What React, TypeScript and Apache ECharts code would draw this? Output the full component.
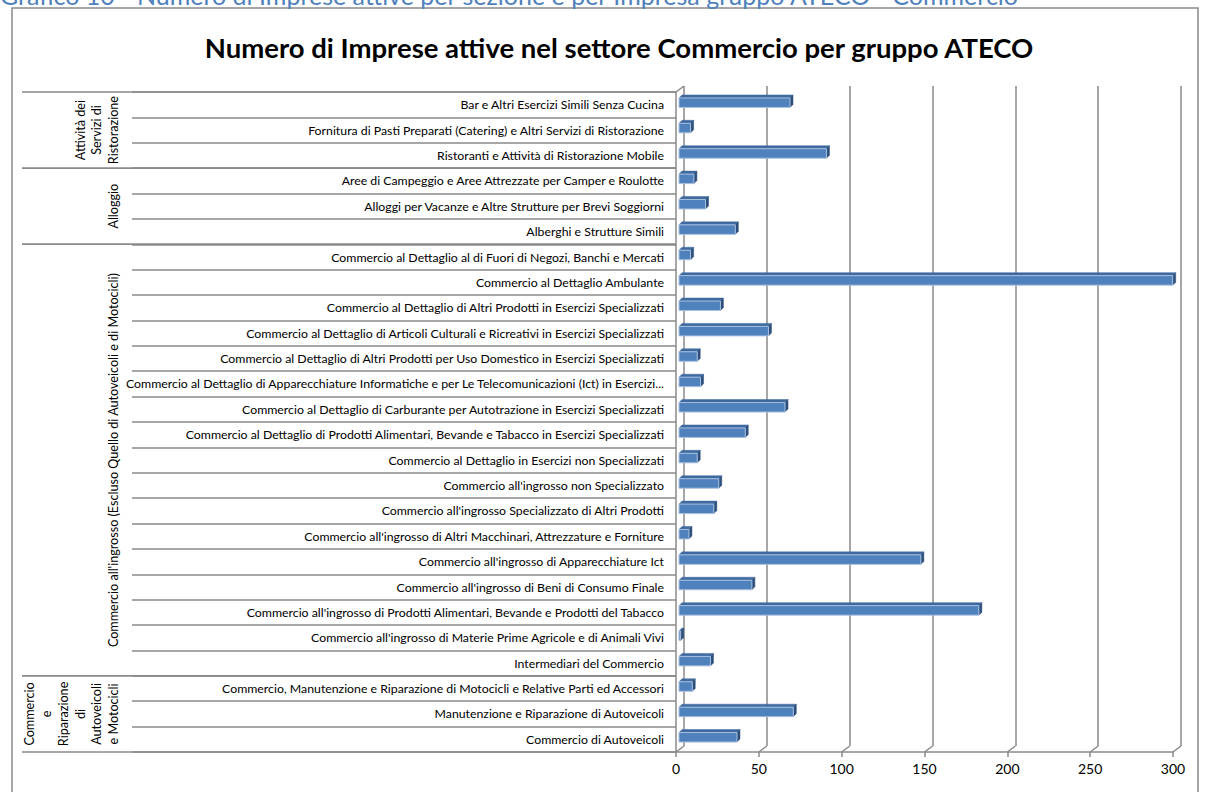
import React, { useEffect, useRef } from "react";
import * as echarts from "echarts";

const categories: string[] = [
  "Bar e Altri Esercizi Simili Senza Cucina",
  "Fornitura di Pasti Preparati (Catering) e Altri Servizi di Ristorazione",
  "Ristoranti e Attività di Ristorazione Mobile",
  "Aree di Campeggio e Aree Attrezzate per Camper e Roulotte",
  "Alloggi per Vacanze e Altre Strutture per Brevi Soggiorni",
  "Alberghi e Strutture Simili",
  "Commercio al Dettaglio al di Fuori di Negozi, Banchi e Mercati",
  "Commercio al Dettaglio Ambulante",
  "Commercio al Dettaglio di Altri Prodotti in Esercizi Specializzati",
  "Commercio al Dettaglio di Articoli Culturali e Ricreativi in Esercizi Specializzati",
  "Commercio al Dettaglio di Altri Prodotti per Uso Domestico in Esercizi Specializzati",
  "Commercio al Dettaglio di Apparecchiature Informatiche e per Le Telecomunicazioni (Ict) in Esercizi...",
  "Commercio al Dettaglio di Carburante per Autotrazione in Esercizi Specializzati",
  "Commercio al Dettaglio di Prodotti Alimentari, Bevande e Tabacco in Esercizi Specializzati",
  "Commercio al Dettaglio in Esercizi non Specializzati",
  "Commercio all'ingrosso non Specializzato",
  "Commercio all'ingrosso Specializzato di Altri Prodotti",
  "Commercio all'ingrosso di Altri Macchinari, Attrezzature e Forniture",
  "Commercio all'ingrosso di Apparecchiature Ict",
  "Commercio all'ingrosso di Beni di Consumo Finale",
  "Commercio all'ingrosso di Prodotti Alimentari, Bevande e Prodotti del Tabacco",
  "Commercio all'ingrosso di Materie Prime Agricole e di Animali Vivi",
  "Intermediari del Commercio",
  "Commercio, Manutenzione e Riparazione di Motocicli e Relative Parti ed Accessori",
  "Manutenzione e Riparazione di Autoveicoli",
  "Commercio di Autoveicoli",
];

const values: number[] = [
  67, 7, 89, 9, 16, 34, 7, 298, 25, 54, 11, 13, 64, 40, 11, 24, 21, 6, 146, 44, 181, 1, 19, 8, 69, 35,
];

const groupNames: string[] = [
  "Attività dei\nServizi di\nRistorazione",
  "Alloggio",
  "Commercio all'ingrosso (Escluso Quello di Autoveicoli e di Motocicli)",
  "Commercio\ne\nRiparazione\ndi\nAutoveicoli\ne Motocicli",
];
const groupStart: number[] = [0, 3, 6, 23];
const groupEnd: number[] = [2, 5, 22, 25];

const xTicks: number[] = [0, 50, 100, 150, 200, 250, 300];

const TITLE = "Numero di Imprese attive nel settore Commercio per gruppo ATECO";
const CAPTION = "Grafico 10 - Numero di Imprese attive per sezione e per Impresa gruppo ATECO - Commercio";

const FONT = "Lato";
const GRID_COLOR = "#8a8a8a";

export default function App() {
  const ref = useRef<HTMLDivElement>(null);
  useEffect(() => {
    if (!ref.current) return;
    const chart = echarts.init(ref.current, null, { renderer: "svg" });
    const DX = 8;
    const DY = 6;
    const option: any = {
      animation: false,
      backgroundColor: "#ffffff",
      textStyle: { fontFamily: FONT },
      title: {
        text: TITLE,
        left: 614,
        textAlign: "center",
        top: 28,
        textStyle: { fontFamily: FONT, fontSize: 27.5, fontWeight: "bold", color: "#000" },
      },
      graphic: [
        {
          type: "rect",
          shape: { x: 12, y: 8, width: 1186, height: 800 },
          style: { fill: "none", stroke: GRID_COLOR, lineWidth: 1.5 },
          silent: true,
        },
        {
          type: "text",
          x: 0,
          y: -18,
          style: { text: CAPTION, fill: "#4f81bd", font: `25px ${FONT}` },
          silent: true,
        },
      ],
      grid: [
        { left: 676, right: 32, top: 92, bottom: 40, containLabel: false },
        { left: 676 + DX, right: 32 - DX, top: 92 - DY, bottom: 40 + DY, containLabel: false },
      ],
      xAxis: [
        {
          type: "value",
          gridIndex: 0,
          min: 0,
          max: 300,
          interval: 50,
          axisLine: { show: true, lineStyle: { color: GRID_COLOR, width: 1.5 } },
          axisTick: { show: true, length: 5, lineStyle: { color: GRID_COLOR, width: 1.5 } },
          axisLabel: { show: true, margin: 9, fontSize: 14, color: "#000", fontFamily: FONT },
          splitLine: { show: false },
        },
        {
          type: "value",
          gridIndex: 1,
          min: 0,
          max: 300,
          interval: 50,
          axisLine: { show: false },
          axisTick: { show: false },
          axisLabel: { show: false },
          splitLine: { show: true, lineStyle: { color: GRID_COLOR, width: 1.5 } },
        },
      ],
      yAxis: [
        {
          type: "category",
          gridIndex: 0,
          inverse: true,
          data: categories,
          axisLine: { show: true, lineStyle: { color: GRID_COLOR, width: 1.5 } },
          axisTick: { show: true, length: 544, lineStyle: { color: GRID_COLOR, width: 1.5 } },
          axisLabel: { show: true, margin: 12, fontSize: 12.3, color: "#000", fontFamily: FONT },
          splitLine: { show: false },
        },
        {
          type: "category",
          gridIndex: 1,
          inverse: true,
          data: categories,
          show: false,
        },
      ],
      series: [
        {
          type: "custom",
          name: "floor",
          xAxisIndex: 0,
          yAxisIndex: 0,
          clip: false,
          silent: true,
          data: xTicks.map((t) => [t]),
          renderItem: (params: any, api: any) => {
            const cs = params.coordSys;
            const v = api.value(0);
            const x = api.coord([v, 0])[0];
            const yb = cs.y + cs.height;
            const children: any[] = [
              {
                type: "line",
                shape: { x1: x, y1: yb, x2: x + DX, y2: yb - DY },
                style: { stroke: GRID_COLOR, lineWidth: 1.5 },
              },
            ];
            if (params.dataIndex === 0) {
              children.push({
                type: "line",
                shape: { x1: cs.x, y1: cs.y, x2: cs.x + DX, y2: cs.y - DY },
                style: { stroke: GRID_COLOR, lineWidth: 1.5 },
              });
            }
            return { type: "group", children };
          },
        },
        {
          type: "custom",
          name: "groups",
          xAxisIndex: 0,
          yAxisIndex: 0,
          clip: false,
          silent: true,
          data: groupNames.map((n, i) => [groupStart[i], groupEnd[i], n]),
          renderItem: (params: any, api: any) => {
            const cs = params.coordSys;
            const s = api.value(0);
            const e = api.value(1);
            const name = groupNames[params.dataIndex];
            const band = api.size([0, 1])[1];
            const yTop = api.coord([0, s])[1] - band / 2;
            const yBot = api.coord([0, e])[1] + band / 2;
            const children: any[] = [
              {
                type: "line",
                shape: { x1: 22, y1: yTop, x2: cs.x, y2: yTop },
                style: { stroke: GRID_COLOR, lineWidth: 1.5 },
              },
              {
                type: "line",
                shape: { x1: 22, y1: yBot, x2: cs.x, y2: yBot },
                style: { stroke: GRID_COLOR, lineWidth: 1.5 },
              },
              {
                type: "text",
                x: 122,
                y: (yTop + yBot) / 2,
                rotation: Math.PI / 2,
                style: {
                  text: name,
                  fill: "#000",
                  font: `12.6px ${FONT}`,
                  align: "center",
                  verticalAlign: "bottom",
                  lineHeight: 16.8,
                },
              },
            ];
            return { type: "group", children };
          },
        },
        {
          type: "custom",
          name: "Imprese",
          xAxisIndex: 0,
          yAxisIndex: 0,
          clip: false,
          data: values.map((v, i) => [v, i]),
          renderItem: (params: any, api: any) => {
            const v = api.value(0);
            const idx = api.value(1);
            const p0 = api.coord([0, idx]);
            const p1 = api.coord([v, idx]);
            const d = 3;
            const h = 9.5;
            const x0 = p0[0] + 3;
            const x1 = p1[0] + 3;
            const yc = p0[1] - 2;
            const yt = yc - h / 2;
            const yb = yc + h / 2;
            return {
              type: "group",
              children: [
                {
                  type: "polygon",
                  shape: { points: [[x0, yt], [x0 + d, yt - d], [x1 + d, yt - d], [x1, yt]] },
                  style: { fill: "#3f6aa0", stroke: "#3f6aa0", lineWidth: 0.5 },
                },
                {
                  type: "polygon",
                  shape: { points: [[x1, yt], [x1 + d, yt - d], [x1 + d, yb - d], [x1, yb]] },
                  style: { fill: "#2d4f7c", stroke: "#2d4f7c", lineWidth: 0.5 },
                },
                {
                  type: "rect",
                  shape: { x: x0, y: yt, width: Math.max(x1 - x0, 0.5), height: h },
                  style: { fill: "#4f81bd", stroke: "#a9c0df", lineWidth: 1 },
                },
              ],
            };
          },
        },
      ],
    };
    chart.setOption(option);
    return () => chart.dispose();
  }, []);
  return (
    <div
      ref={ref}
      style={{ position: "absolute", left: 0, top: 0, width: 1205, height: 792, background: "#fff" }}
    />
  );
}
